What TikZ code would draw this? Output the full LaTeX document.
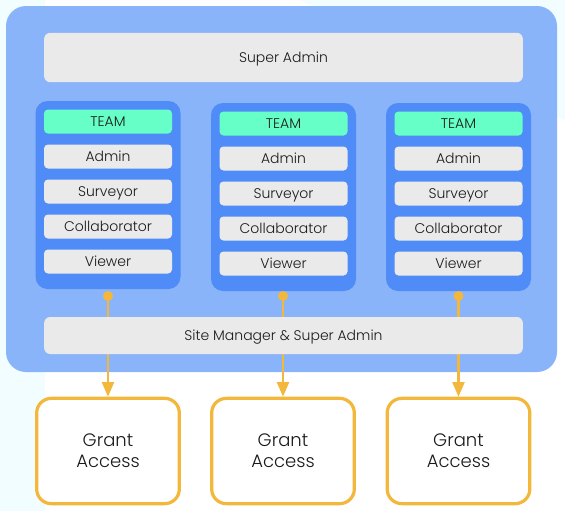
\documentclass[tikz,border=0pt]{standalone}
\usepackage{fontspec}
\setmainfont{Poppins}[UprightFont={* Light}]
\usetikzlibrary{arrows.meta}
\definecolor{outerblue}{HTML}{8AB4F9}
\definecolor{panelblue}{HTML}{4F8CF8}
\definecolor{boxgray}{HTML}{EAEAEA}
\definecolor{teamgreen}{HTML}{66FFC8}
\definecolor{accent}{HTML}{F3B83B}
\definecolor{bgcyan}{HTML}{F2FDFF}
\definecolor{txt}{HTML}{1A1A1A}
\tikzset{
  px/.style={x=0.75pt,y=-0.75pt},
  graybar/.style={fill=boxgray,draw=none,rounded corners=4.5pt,text=txt,text depth=0pt,font=\fontsize{10.5}{12}\selectfont},
  rolebox/.style={fill=boxgray,draw=none,rounded corners=3pt,minimum width=96pt,minimum height=18pt,inner sep=0pt,text=txt,text depth=0pt,font=\fontsize{10.5}{12}\selectfont},
  teambox/.style={rolebox,fill=teamgreen},
  panel/.style={fill=panelblue,draw=none,rounded corners=9pt},
  grantbox/.style={draw=accent,line width=2.4pt,fill=white,rounded corners=11pt,minimum width=107pt,minimum height=79pt,inner sep=0pt,align=center,text=txt,font=\fontsize{13.5}{16}\selectfont},
  dotnode/.style={circle,fill=accent,draw=none,minimum size=7.5pt,inner sep=0pt},
  link/.style={draw=accent,line width=1.6pt,-{Triangle[length=11pt,width=9pt]}}
}
\begin{document}
\begin{tikzpicture}[px]
\useasboundingbox (0,0) rectangle (565,511);
\fill[white] (0,0) rectangle (565,511);
\fill[bgcyan] (0,0) rectangle (45,511);
\fill[bgcyan] (300,0) -- (565,0) -- (565,120) -- cycle;
% outer container
\fill[outerblue,rounded corners=15pt] (6,6) rectangle (557,372);
% super admin
\node[graybar,minimum width=359pt,minimum height=37pt,inner sep=0pt] (super) at (283.5,57.5) {Super Admin};
% panels
\foreach \i/\cx/\ty in {1/108/101,2/283.5/103,3/458.5/103}{
  \fill[panel] (\cx-72.5,\ty) rectangle (\cx+72.5,\ty+188);
}
\foreach \i/\cx/\cy in {1/108/121.5,2/283.5/123.5,3/458.5/123.5}{
  \node[teambox] (team\i) at (\cx,\cy) {TEAM};
  \node[rolebox] (admin\i) at (\cx,\cy+35) {Admin};
  \node[rolebox] (surv\i) at (\cx,\cy+70) {Surveyor};
  \node[rolebox] (coll\i) at (\cx,\cy+105) {Collaborator};
  \node[rolebox] (view\i) at (\cx,\cy+140) {Viewer};
}
% grant boxes and dots
\foreach \i/\cx in {1/108,2/283,3/458.5}{
  \node[grantbox] (grant\i) at (\cx,451) {Grant\\Access};
  \node[dotnode] (dot\i) at (\cx,296) {};
}
\foreach \i in {1,2,3}{
  \draw[link] (dot\i.center) -- (grant\i.north);
}
% site manager bar drawn over the links
\node[graybar,minimum width=359pt,minimum height=27.75pt,inner sep=0pt] (site) at (283.5,335.5) {Site Manager \& Super Admin};
\end{tikzpicture}
\end{document}
